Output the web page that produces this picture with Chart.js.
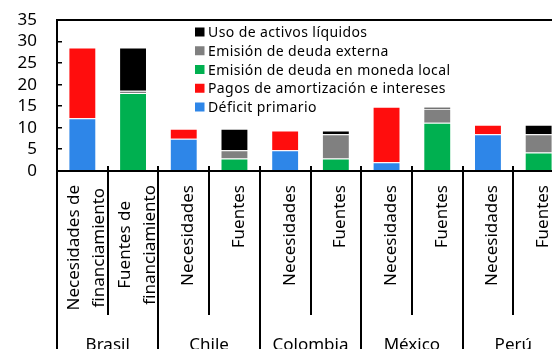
<!DOCTYPE html>
<html>
<head>
<meta charset="utf-8">
<script src="https://cdn.jsdelivr.net/npm/chart.js@4.4.1/dist/chart.umd.min.js"></script>
<style>
  html, body { margin: 0; padding: 0; background: #fff; overflow: hidden; }
  #wrap { width: 552px; height: 349px; overflow: hidden; position: relative; }
  canvas { display: block; }
</style>
</head>
<body>
<div id="wrap"><canvas id="chart" width="580" height="349"></canvas></div>
<script>
// Categorías (dos por país) y países
const categories = [
  ['Necesidades de', 'financiamiento'], ['Fuentes de', 'financiamiento'],
  'Necesidades', 'Fuentes',
  'Necesidades', 'Fuentes',
  'Necesidades', 'Fuentes',
  'Necesidades', 'Fuentes'
];
const countries = ['Brasil', 'Chile', 'Colombia', 'México', 'Perú'];

// Series (% del PIB)
const deficitPrimario = [12.2, null, 7.5, null, 4.8, null, 2.0, null, 8.5, null];
const pagosAmortizacion = [16.4, null, 2.3, null, 4.6, null, 12.9, null, 2.2, null];
const emisionLocal = [null, 18.1, null, 2.9, null, 2.9, null, 11.2, null, 4.3];
const emisionExterna = [null, 0.5, null, 1.9, null, 5.6, null, 3.2, null, 4.2];
const usoActivos = [null, 10.0, null, 5.0, null, 0.9, null, 0.5, null, 2.2];

const yTicks = [0, 5, 10, 15, 20, 25, 30, 35];

const FONT = '"Noto Sans", "DejaVu Sans", sans-serif';

function ds(label, data, color) {
  return {
    label, data,
    backgroundColor: color,
    borderColor: 'rgba(255,255,255,0.35)',
    borderWidth: 1,
    barPercentage: 0.55,
    categoryPercentage: 1.0
  };
}

// Dibuja marco, separadores, etiquetas del eje x y leyenda
const decoraciones = {
  id: 'decoraciones',
  afterDraw(chart) {
    const { ctx, chartArea: a, scales: { x, y } } = chart;
    const H = chart.height;
    const y0 = y.getPixelForValue(0);
    const yTop = y.getPixelForValue(35);
    const x0 = x.getPixelForValue(0);
    const half = (x.getPixelForValue(1) - x0) / 2;

    ctx.save();
    ctx.fillStyle = '#000';
    // línea superior y eje base
    ctx.fillRect(a.left - 1, Math.round(yTop) - 1, chart.width - a.left + 1, 2);
    ctx.fillRect(a.left - 1, Math.round(y0) - 1, chart.width - a.left + 1, 2);

    // marcas interiores del eje y
    yTicks.slice(1, -1).forEach(v => {
      const py = Math.round(y.getPixelForValue(v));
      ctx.fillRect(a.left, py - 1, 5, 1.5);
    });

    // separadores de categorías y países
    for (let i = 0; i <= categories.length; i++) {
      const bx = Math.round(x0 - half + i * 2 * half);
      const isGroup = i % 2 === 0;
      const yEnd = isGroup ? H : 315;
      ctx.fillRect(bx - 1, y0 - 5, 2, yEnd - (y0 - 5));
    }

    // etiquetas rotadas
    ctx.font = '17px ' + FONT;
    ctx.textBaseline = 'alphabetic';
    const lineH = 25;
    categories.forEach((lab, i) => {
      const lines = Array.isArray(lab) ? lab : [lab];
      const cx = x.getPixelForValue(i);
      ctx.save();
      ctx.translate(cx, 185);
      ctx.rotate(-Math.PI / 2);
      if (lines.length === 1) {
        ctx.textAlign = 'right';
        ctx.fillText(lines[0], 0, 9.5);
      } else {
        const w = Math.max(...lines.map(l => ctx.measureText(l).width));
        ctx.textAlign = 'center';
        lines.forEach((l, k) => {
          ctx.fillText(l, -w / 2, 9 + (k - (lines.length - 1) / 2) * lineH);
        });
      }
      ctx.restore();
    });

    // nombres de países
    ctx.textAlign = 'center';
    countries.forEach((c, g) => {
      const gx = (x.getPixelForValue(2 * g) + x.getPixelForValue(2 * g + 1)) / 2;
      ctx.fillText(c, gx, 350);
    });

    // leyenda (orden inverso al apilado)
    ctx.font = '14px ' + FONT;
    ctx.letterSpacing = '0.4px';
    ctx.textAlign = 'left';
    const items = chart.data.datasets.slice().reverse();
    items.forEach((d, k) => {
      const ry = a.top + 12 + k * 18.75;
      ctx.fillStyle = d.backgroundColor;
      ctx.fillRect(a.left + 138, ry - 4.5, 9.5, 9);
      ctx.fillStyle = '#000';
      ctx.fillText(d.label, a.left + 151, ry + 5);
    });

    ctx.restore();
  }
};

new Chart(document.getElementById('chart'), {
  type: 'bar',
  data: {
    labels: categories,
    datasets: [
      ds('Déficit primario', deficitPrimario, '#2E86E8'),
      ds('Pagos de amortización e intereses', pagosAmortizacion, '#FF0D0D'),
      ds('Emisión de deuda en moneda local', emisionLocal, '#00B050'),
      ds('Emisión de deuda externa', emisionExterna, '#808080'),
      ds('Uso de activos líquidos', usoActivos, '#000000')
    ]
  },
  options: {
    responsive: false,
    animation: false,
    devicePixelRatio: 1,
    layout: { padding: { top: 20, bottom: 178, right: 16, left: 0 } },
    plugins: { legend: { display: false }, tooltip: { enabled: false } },
    scales: {
      x: { stacked: true, display: false },
      // eje superior: solo la línea del marco
      xTop: {
        type: 'category',
        position: 'top',
        labels: categories,
        grid: { display: false, drawTicks: false },
        ticks: { display: false },
        border: { display: true, color: '#000', width: 2 }
      },
      y: {
        stacked: true,
        min: 0, max: 35,
        afterFit(scale) { scale.width = 57; },
        afterBuildTicks(scale) { scale.ticks = yTicks.map(v => ({ value: v })); },
        grid: { display: false, drawTicks: true, tickLength: 20 },
        border: { display: true, color: '#000', width: 2 },
        ticks: { color: '#000', padding: 0, autoSkip: false, font: { family: FONT, size: 17 } }
      }
    }
  },
  plugins: [decoraciones]
});
</script>
</body>
</html>
